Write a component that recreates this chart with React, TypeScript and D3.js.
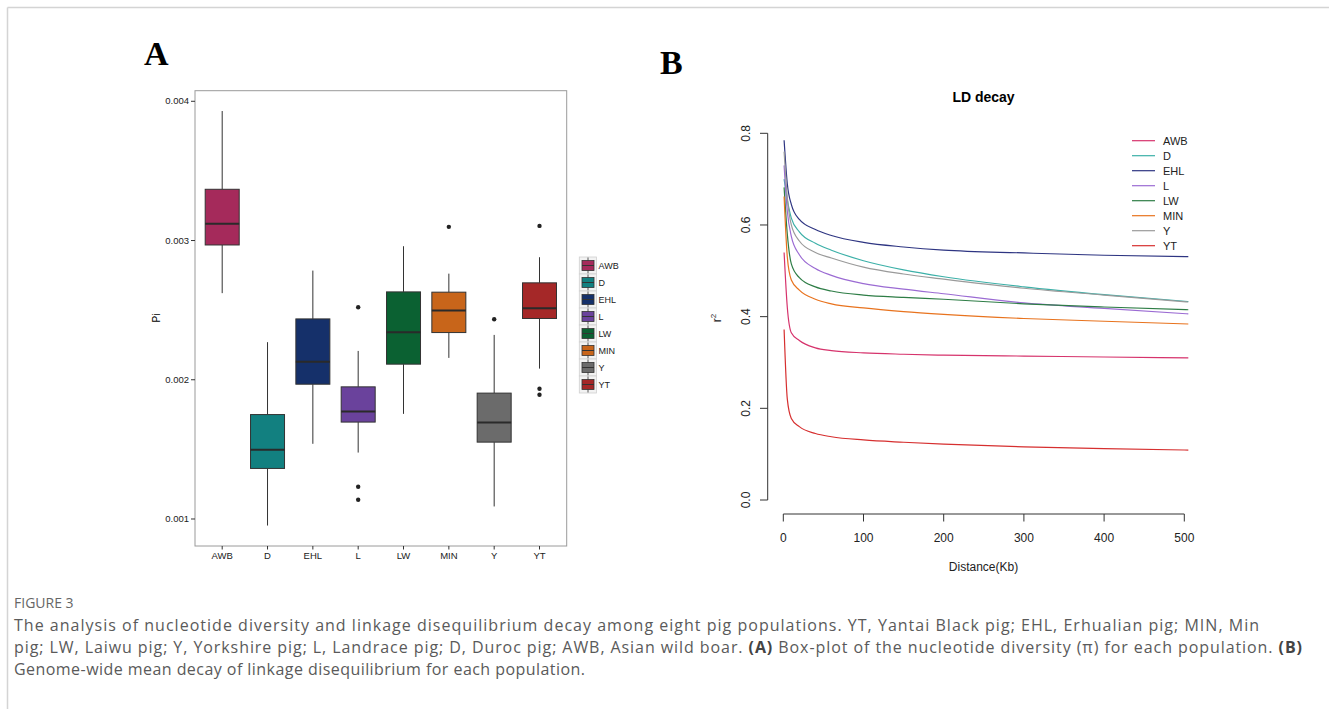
import * as d3 from "d3";

// ---- panel A: nucleotide diversity boxplot ----
const pops = ["AWB", "D", "EHL", "L", "LW", "MIN", "Y", "YT"];
// [lower whisker, Q1, median, Q3, upper whisker]
const piStats = [
  [0.002622, 0.002968, 0.003121, 0.003368, 0.00393],
  [0.000953, 0.001363, 0.001497, 0.00175, 0.00227],
  [0.00154, 0.001968, 0.002129, 0.002437, 0.002784],
  [0.001477, 0.001696, 0.001772, 0.001949, 0.002207],
  [0.001755, 0.002112, 0.002342, 0.002631, 0.002959],
  [0.002157, 0.002339, 0.002497, 0.002629, 0.002762],
  [0.00109, 0.001552, 0.001693, 0.001904, 0.002322],
  [0.00208, 0.00244, 0.002514, 0.002696, 0.00288],
];
const piOutliers = [[], [], [], [0.002521, 0.001231, 0.001138], [], [0.003098], [0.002435], [0.003105, 0.001935, 0.001892]];
const boxColors = ["#A52A5B", "#128080", "#15306A", "#6A429C", "#0B6132", "#C8651A", "#6B6B6B", "#A52828"];
const piTicks = [0.001, 0.002, 0.003, 0.004];

// ---- panel B: LD decay ----
const distKb = [1, 5, 10, 20, 40, 60, 100, 150, 200, 300, 400, 505];
const ldAWB = [0.54, 0.42, 0.365, 0.348, 0.332, 0.326, 0.321, 0.318, 0.316, 0.314, 0.312, 0.31];
const ldD = [0.7, 0.655, 0.615, 0.585, 0.56, 0.545, 0.522, 0.502, 0.487, 0.465, 0.448, 0.433];
const ldEHL = [0.785, 0.69, 0.645, 0.612, 0.59, 0.577, 0.562, 0.552, 0.545, 0.539, 0.534, 0.531];
const ldL = [0.73, 0.63, 0.575, 0.535, 0.505, 0.49, 0.472, 0.46, 0.45, 0.43, 0.418, 0.406];
const ldLW = [0.682, 0.58, 0.515, 0.485, 0.465, 0.456, 0.447, 0.442, 0.438, 0.428, 0.421, 0.415];
const ldMIN = [0.662, 0.53, 0.48, 0.458, 0.438, 0.428, 0.419, 0.411, 0.405, 0.396, 0.39, 0.384];
const ldY = [0.76, 0.66, 0.6, 0.565, 0.54, 0.528, 0.508, 0.493, 0.482, 0.462, 0.447, 0.432];
const ldYT = [0.372, 0.22, 0.178, 0.16, 0.145, 0.138, 0.131, 0.126, 0.122, 0.116, 0.112, 0.109];
const ldSeries = [ldAWB, ldD, ldEHL, ldL, ldLW, ldMIN, ldY, ldYT];
const lineColors = ["#D6336C", "#3CB0A8", "#2E3582", "#9B6BD3", "#2E7D46", "#E8731E", "#9A9A9A", "#D62F2F"];
const ldYTicks = [0, 0.2, 0.4, 0.6, 0.8];
const ldXTicks = [0, 100, 200, 300, 400, 500];

const caption1 = "The analysis of nucleotide diversity and linkage disequilibrium decay among eight pig populations. YT, Yantai Black pig; EHL, Erhualian pig; MIN, Min";
const caption3 = "Genome-wide mean decay of linkage disequilibrium for each population.";

const sans = "Liberation Sans, Arial, sans-serif";

function PanelA() {
  const x = d3.scalePoint().domain(pops).range([195, 566.7]).padding(0.6);
  const y = d3.scaleLinear().domain([0.000806, 0.004076]).range([546, 90.7]);
  const bw = x.step() * 0.75;
  return (
    <g fontFamily={sans}>
      <text x={144} y={65} fontFamily="Liberation Serif, Times New Roman, serif" fontWeight="bold" fontSize={34}>A</text>
      <rect x={195} y={90.7} width={371.7} height={455.3} fill="white" stroke="#9a9a9a" strokeWidth={1} />
      {piTicks.map((t) => (
        <g key={t}>
          <line x1={191} x2={195} y1={y(t)} y2={y(t)} stroke="#333" />
          <text x={189} y={y(t) + 3} fontSize={9.5} textAnchor="end" fill="#222">{t.toFixed(3)}</text>
        </g>
      ))}
      {pops.map((p) => (
        <g key={p}>
          <line x1={x(p)} x2={x(p)} y1={546} y2={549.5} stroke="#333" />
          <text x={x(p)} y={558.5} fontSize={9.5} textAnchor="middle" fill="#222">{p}</text>
        </g>
      ))}
      <text transform="translate(160,318) rotate(-90)" fontSize={10} textAnchor="middle">Pi</text>
      {piStats.map((s, i) => {
        const cx = x(pops[i]) as number;
        return (
          <g key={pops[i]}>
            <line x1={cx} x2={cx} y1={y(s[4])} y2={y(s[3])} stroke="#333" strokeWidth={1} />
            <line x1={cx} x2={cx} y1={y(s[1])} y2={y(s[0])} stroke="#333" strokeWidth={1} />
            <rect x={cx - bw / 2} y={y(s[3])} width={bw} height={y(s[1]) - y(s[3])} fill={boxColors[i]} stroke="#333" strokeWidth={1} />
            <line x1={cx - bw / 2} x2={cx + bw / 2} y1={y(s[2])} y2={y(s[2])} stroke="#2a2a2a" strokeWidth={2} />
            {piOutliers[i].map((o, j) => (
              <circle key={j} cx={cx} cy={y(o)} r={2.2} fill="#222" />
            ))}
          </g>
        );
      })}
      {/* legend */}
      {pops.map((p, i) => {
        const cy = 265.5 + i * 17;
        return (
          <g key={p}>
            <rect x={579.3} y={cy - 8.5} width={17.3} height={17} fill="#f2f2f2" stroke="#d0d0d0" strokeWidth={0.8} />
            <line x1={588} x2={588} y1={cy - 8} y2={cy + 8} stroke="#333" strokeWidth={0.8} />
            <rect x={582} y={cy - 5} width={12} height={10} fill={boxColors[i]} stroke="#333" strokeWidth={0.8} />
            <line x1={582} x2={594} y1={cy} y2={cy} stroke="#333" strokeWidth={1} />
            <text x={598.5} y={cy + 3.2} fontSize={9} fill="#222">{p}</text>
          </g>
        );
      })}
    </g>
  );
}

function PanelB() {
  const x = d3.scaleLinear().domain([0, 500]).range([783.3, 1184.3]);
  const y = d3.scaleLinear().domain([0, 0.8]).range([500, 133.3]);
  const line = d3
    .line<number>()
    .x((_, i) => x(distKb[i]))
    .y((d) => y(d))
    .curve(d3.curveMonotoneX);
  return (
    <g fontFamily={sans}>
      <text x={660} y={74} fontFamily="Liberation Serif, Times New Roman, serif" fontWeight="bold" fontSize={34}>B</text>
      <text x={983.5} y={102} fontSize={14} fontWeight="bold" textAnchor="middle">LD decay</text>
      <line x1={767.7} x2={767.7} y1={y(0)} y2={y(0.8)} stroke="#333" />
      {ldYTicks.map((t) => (
        <g key={t}>
          <line x1={760} x2={767.7} y1={y(t)} y2={y(t)} stroke="#333" />
          <text transform={`translate(750,${y(t)}) rotate(-90)`} fontSize={12} textAnchor="middle" fill="#222">{t.toFixed(1)}</text>
        </g>
      ))}
      <line x1={x(0)} x2={x(500)} y1={514} y2={514} stroke="#333" />
      {ldXTicks.map((t) => (
        <g key={t}>
          <line x1={x(t)} x2={x(t)} y1={514} y2={521.5} stroke="#333" />
          <text x={x(t)} y={541.5} fontSize={12} textAnchor="middle" fill="#222">{t}</text>
        </g>
      ))}
      <text x={983.5} y={571} fontSize={12} textAnchor="middle" fill="#222">Distance(Kb)</text>
      <text transform="translate(721,318) rotate(-90)" fontSize={12} textAnchor="middle" fill="#222">
        r<tspan fontSize={8} dy={-5}>2</tspan>
      </text>
      {ldSeries.map((s, i) => (
        <path key={pops[i]} d={line(s) || ""} fill="none" stroke={lineColors[i]} strokeWidth={1.2} />
      ))}
      {pops.map((p, i) => {
        const ly = 140.7 + i * 15;
        return (
          <g key={p}>
            <line x1={1132} x2={1155} y1={ly} y2={ly} stroke={lineColors[i]} strokeWidth={1.2} />
            <text x={1163} y={ly + 4} fontSize={11} fill="#222">{p}</text>
          </g>
        );
      })}
    </g>
  );
}

export default function App() {
  const capFont = "Open Sans, Noto Sans, sans-serif";
  return (
    <div style={{ position: "absolute", left: 0, top: 0 }}>
      <svg width={1329} height={709} style={{ display: "block", background: "white" }}>
        <line x1={7.5} x2={1329} y1={7.5} y2={7.5} stroke="#d4d4d4" strokeWidth={1.5} />
        <line x1={7.5} x2={7.5} y1={7.5} y2={709} stroke="#d4d4d4" strokeWidth={1.5} />
        <PanelA />
        <PanelB />
        <g fontFamily={capFont} fill="#5a5a5a">
          <text x={14} y={608} fontSize={14} fill="#666">FIGURE 3</text>
          <text x={14} y={631} fontSize={16} textLength={1245} lengthAdjust="spacing">{caption1}</text>
          <text x={14} y={653} fontSize={16} textLength={1288} lengthAdjust="spacing">
            pig; LW, Laiwu pig; Y, Yorkshire pig; L, Landrace pig; D, Duroc pig; AWB, Asian wild boar.{" "}
            <tspan fontWeight="bold" fill="#444">(A)</tspan> Box-plot of the nucleotide diversity (π) for each population.{" "}
            <tspan fontWeight="bold" fill="#444">(B)</tspan>
          </text>
          <text x={14} y={675} fontSize={16} textLength={571} lengthAdjust="spacing">{caption3}</text>
        </g>
      </svg>
    </div>
  );
}
